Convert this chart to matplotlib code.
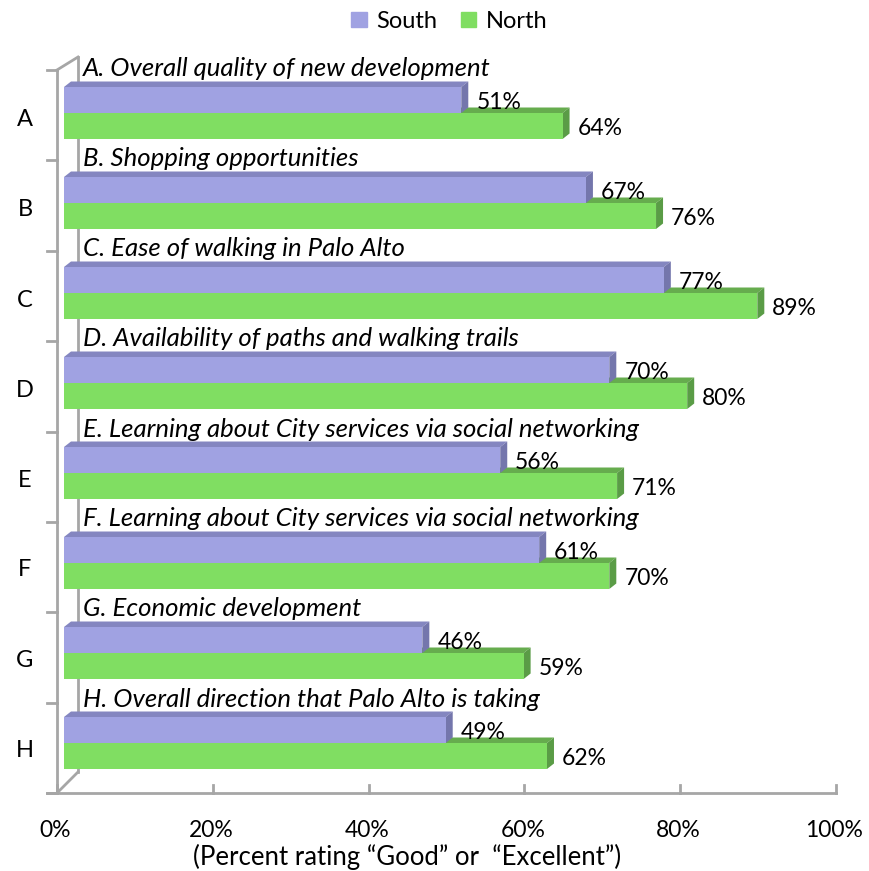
import matplotlib
matplotlib.use("Agg")
import matplotlib.pyplot as plt
from matplotlib.patches import Polygon, Patch

# Survey results: share rating each item "Good" or "Excellent"
letters = ["A", "B", "C", "D", "E", "F", "G", "H"]
questions = [
    "A. Overall quality of new development",
    "B. Shopping opportunities",
    "C. Ease of walking in Palo Alto",
    "D. Availability of paths and walking trails",
    "E. Learning about City services via social networking",
    "F. Learning about City services via social networking",
    "G. Economic development",
    "H. Overall direction that Palo Alto is taking",
]
south = [51, 67, 77, 70, 56, 61, 46, 49]
north = [64, 76, 89, 80, 71, 70, 59, 62]
tick_values = [0, 20, 40, 60, 80, 100]

SOUTH_FRONT, SOUTH_TOP, SOUTH_SIDE = "#A0A2E2", "#8486C0", "#7476AC"
NORTH_FRONT, NORTH_TOP, NORTH_SIDE = "#80DE62", "#66AC4E", "#5A9C46"
GRID = "#A6A6A6"
FONT = "Lato"
NUM_SIZE = 16.5
TEXT_SIZE = 18.5

W, H = 869, 871
PX_X = 7.79   # pixels per percent
PX_Y = 90.0   # pixels per category
fig = plt.figure(figsize=(W / 100, H / 100), dpi=100)
ax = fig.add_axes([0, 0, 1, 1])
ax.set_xlim(-64 / PX_X, (W - 64) / PX_X)
ax.set_ylim((H - 113) / PX_Y, -113 / PX_Y)
ax.set_axis_off()

bar_h = 26 / PX_Y
dx, dy = 7 / PX_X, -5.5 / PX_Y  # depth of the 3-D bars
lab_dy = 2.5 / PX_Y

# walls and floor
x_front, x_back = -7 / PX_X, 14 / PX_X
y_top, y_floor = -0.478, 7.556
ax.plot([x_front, x_front], [y_top, y_floor], color=GRID, lw=2, zorder=1)
ax.plot([x_back, x_back], [-0.622, 7.322], color=GRID, lw=2, zorder=1)
ax.plot([x_front, x_back], [y_top, -0.622], color=GRID, lw=2, zorder=1)
ax.plot([x_front, x_back], [y_floor, 7.322], color=GRID, lw=2, zorder=1)
ax.plot([-17 / PX_X, 100 + x_front], [y_floor, y_floor], color=GRID, lw=2, zorder=1)
for k in range(9):
    yk = y_top + k * (y_floor - y_top) / 8
    ax.plot([-17 / PX_X, x_front], [yk, yk], color=GRID, lw=2, zorder=1)
for t in tick_values:
    xt = t + x_front
    ax.plot([xt, xt], [y_floor, y_floor - 8 / PX_Y], color=GRID, lw=2, zorder=1)
    ax.text(xt - 1.5 / PX_X, y_floor + 37 / PX_Y, f"{t}%", ha="center", va="center",
            fontsize=NUM_SIZE, family=FONT)
ax.text((407 - 64) / PX_X, y_floor + 64 / PX_Y,
        "(Percent rating \u201cGood\u201d or  \u201cExcellent\u201d)",
        ha="center", va="center", fontsize=TEXT_SIZE, family=FONT)


def bar3d(y0, y1, value, front, top, side, z):
    ax.add_patch(Polygon([(0, y0), (dx, y0 + dy), (value + dx, y0 + dy), (value, y0)],
                         closed=True, fc=top, ec="none", zorder=z))
    ax.add_patch(Polygon([(value, y0), (value + dx, y0 + dy), (value + dx, y1 + dy), (value, y1)],
                         closed=True, fc=side, ec="none", zorder=z))
    ax.barh((y0 + y1) / 2, value, height=y1 - y0, left=0, color=front, zorder=z)


for i in range(len(letters)):
    yb = i  # boundary between the South and North bars
    bar3d(yb, yb + bar_h, north[i], NORTH_FRONT, NORTH_TOP, NORTH_SIDE, 2 + 2 * i)
    bar3d(yb - bar_h, yb, south[i], SOUTH_FRONT, SOUTH_TOP, SOUTH_SIDE, 3 + 2 * i)
    ax.text(south[i] + dx + 8 / PX_X, yb - bar_h / 2 + lab_dy, f"{south[i]}%", ha="left",
            va="center", fontsize=NUM_SIZE, family=FONT, zorder=30)
    ax.text(north[i] + dx + 8 / PX_X, yb + bar_h / 2 + lab_dy, f"{north[i]}%", ha="left",
            va="center", fontsize=NUM_SIZE, family=FONT, zorder=30)
    ax.text(19 / PX_X, yb - bar_h - 18 / PX_Y, questions[i], ha="left", va="center",
            fontsize=TEXT_SIZE, style="italic", family=FONT, zorder=30)
    ax.text(-39 / PX_X, yb + 7 / PX_Y, letters[i], ha="center", va="center",
            fontsize=17, family=FONT)

handles = [Patch(color=SOUTH_FRONT, label="South"), Patch(color=NORTH_FRONT, label="North")]
ax.legend(handles=handles, loc="upper center", bbox_to_anchor=(0.517, 1.012), ncol=2,
          frameon=False, prop={"family": FONT, "size": 17}, handlelength=0.65,
          handleheight=0.65, handletextpad=0.4, columnspacing=1.0)

fig.savefig("out.png", dpi=100)
